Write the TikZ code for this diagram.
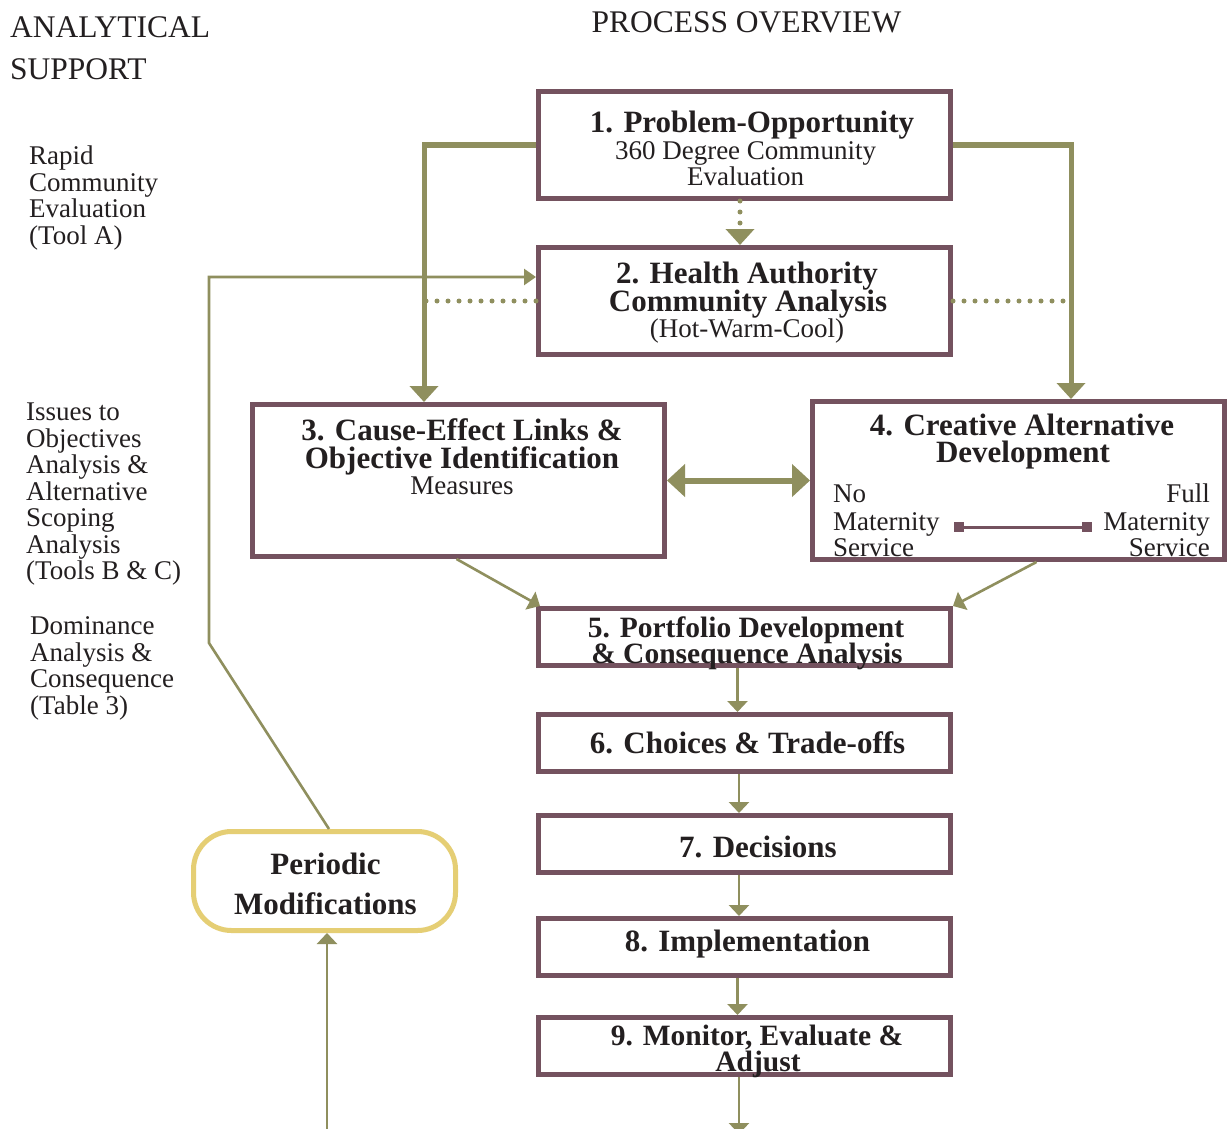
\documentclass[tikz,border=0pt]{standalone}
\usepackage{fontspec}
\setmainfont{Liberation Serif}
\usetikzlibrary{arrows.meta,calc}
\definecolor{boxc}{HTML}{74525F}
\definecolor{oli}{HTML}{8F8F5E}
\definecolor{yel}{HTML}{E5CE74}
\definecolor{txt}{HTML}{231F20}
\tikzset{
  boxn/.style={draw=boxc, line width=5pt, minimum width=412pt, minimum height=57pt, inner sep=0pt, fill=white},
  tb/.style={font=\fontsize{31}{27}\selectfont\bfseries, text=txt, anchor=base, inner sep=0pt},
  tbs/.style={tb, font=\fontsize{29.5}{27}\selectfont\bfseries},
  tr/.style={font=\fontsize{27}{26.5}\selectfont, text=txt, anchor=base, inner sep=0pt},
  trl/.style={tr, anchor=base west},
  trr/.style={tr, anchor=base east},
  th/.style={font=\fontsize{31.5}{31}\selectfont, text=txt, anchor=base, inner sep=0pt},
  thk/.style={draw=oli, line width=5pt, -{Triangle[width=28pt,length=16pt]}},
  dotl/.style={draw=oli, line width=5pt, line cap=round, dash pattern=on 0pt off 11pt},
  thn/.style={draw=oli, line width=2.6pt, -{Triangle[width=20pt,length=11pt]}},
  sq/.style={fill=boxc, minimum size=10pt, inner sep=0pt},
}
\begin{document}
\begin{tikzpicture}[x=1pt,y=-1pt]
\useasboundingbox (0,0) rectangle (1231,1129);
\clip (0,0) rectangle (1231,1129);
\fill[white] (0,0) rectangle (1231,1129);

% headings
\node[th, anchor=base west] (h1) at (10,38) {ANALYTICAL};
\node[th, anchor=base west] (h2) at (10,80) {SUPPORT};
\node[th] (h3) at (746.5,33) {PROCESS OVERVIEW};

% left texts
\node[trl] (r1) at (29,164.5) {Rapid};
\node[trl] (r2) at (29,191) {Community};
\node[trl] (r3) at (29,217.5) {Evaluation};
\node[trl] (r4) at (29,244) {(Tool A)};

\node[trl] (i1) at (26,420.5) {Issues to};
\node[trl] (i2) at (26,447) {Objectives};
\node[trl] (i3) at (26,473.5) {Analysis \&};
\node[trl] (i4) at (26,500) {Alternative};
\node[trl] (i5) at (26,526.5) {Scoping};
\node[trl] (i6) at (26,553) {Analysis};
\node[trl] (i7) at (26,579.5) {(Tools B \& C)};

\node[trl] (d1) at (30,634.5) {Dominance};
\node[trl] (d2) at (30,661) {Analysis \&};
\node[trl] (d3) at (30,687.5) {Consequence};
\node[trl] (d4) at (30,714) {(Table 3)};

% boxes
\node[boxn, minimum height=107pt] (b1) at (744.5,145) {};
\node[boxn, minimum height=107pt] (b2) at (744.5,301) {};
\node[boxn, minimum height=152pt] (b3) at (458.5,480.5) {};
\node[boxn, minimum height=158pt] (b4) at (1018.5,480.5) {};
\node[boxn] (b5) at (744.5,637) {};
\node[boxn] (b6) at (744.5,743) {};
\node[boxn] (b7) at (744.5,844) {};
\node[boxn] (b8) at (744.5,947) {};
\node[boxn] (b9) at (744.5,1046) {};
\node[draw=yel, line width=5pt, rounded corners=38pt, minimum width=262pt, minimum height=99pt, inner sep=0pt, fill=white] (pm) at (324.5,881) {};

% box texts
\node[tb] (t1a) at (752,132) {1. Problem-Opportunity};
\node[tr] (t1b) at (745.5,159.5) {360 Degree Community};
\node[tr] (t1c) at (745.5,185.5) {Evaluation};

\node[tb] (t2a) at (747,283) {2. Health Authority};
\node[tb] (t2b) at (748,311) {Community Analysis};
\node[tr] (t2c) at (747,337.5) {(Hot-Warm-Cool)};

\node[tb] (t3a) at (462,440) {3. Cause-Effect Links \&};
\node[tb] (t3b) at (462,468) {Objective Identification};
\node[tr] (t3c) at (462,494.5) {Measures};

\node[tb] (t4a) at (1022,435) {4. Creative Alternative};
\node[tb] (t4b) at (1023,462) {Development};
\node[trl] (t4c) at (833,502.5) {No};
\node[trl] (t4d) at (833,530.5) {Maternity};
\node[trl] (t4e) at (833,556.5) {Service};
\node[trr] (t4f) at (1210,502.5) {Full};
\node[trr] (t4g) at (1210,530.5) {Maternity};
\node[trr] (t4h) at (1210,556.5) {Service};
\node[sq] (sqL) at (959,527) {};
\node[sq] (sqR) at (1087,527) {};
\draw[boxc, line width=3pt] (sqL) -- (sqR);

\node[tbs] (t5a) at (746,637.5) {5. Portfolio Development};
\node[tbs] (t5b) at (747,663.5) {\& Consequence Analysis};
\node[tb] (t6) at (747.5,753) {6. Choices \& Trade-offs};
\node[tb] (t7) at (758,857) {7. Decisions};
\node[tb] (t8) at (747.5,951) {8. Implementation};
\node[tbs] (t9a) at (757,1045.5) {9. Monitor, Evaluate \&};
\node[tbs] (t9b) at (758,1071.5) {Adjust};

\node[tb] (pma) at (325.5,874) {Periodic};
\node[tb] (pmb) at (325.5,914) {Modifications};

% connectors
\coordinate (lcol) at (424,299);
\coordinate (rcol) at (1071,299);
\draw[dotl] (b2.west) -- (b2.west -| lcol);
\draw[dotl] (b2.east) -- (b2.east -| rcol);
\draw[thk] (b1.west) -| ([xshift=-34.5pt]b3.north);
\draw[thk] (b1.east) -| ([xshift=52.5pt]b4.north);
\draw[dotl, -{Triangle[width=28pt,length=16pt]}] ([xshift=-4.5pt]b1.south) -- ([xshift=-4.5pt]b2.north);
\draw[draw=oli, line width=6pt, {Triangle[width=32pt,length=18pt]}-{Triangle[width=32pt,length=18pt]}] (b3.east) -- (b4.west);

\draw[thn] ([xshift=-2pt]b3.south) -- ([xshift=4pt]b5.north west);
\draw[thn] ([xshift=18pt]b4.south) -- (b5.north east);
\draw[thn] ([xshift=-7pt]b5.south) -- ([xshift=-7pt]b6.north);
\draw[thn] ([xshift=-5.5pt]b6.south) -- ([xshift=-5.5pt]b7.north);
\draw[thn] ([xshift=-5.5pt]b7.south) -- ([xshift=-5.5pt]b8.north);
\draw[thn] ([xshift=-7pt]b8.south) -- ([xshift=-7pt]b9.north);
\coordinate (end9) at (739,1134);
\draw[thn] ([xshift=-5.5pt]b9.south) -- (end9);

\coordinate (fa) at (209,643);
\coordinate (fb) at (209,277);
\draw[thn, -{Triangle[width=16pt,length=12pt]}] ([xshift=4.5pt]pm.north) -- (fa) -- (fb) -- (fb -| b2.west);
\coordinate (pmbot) at (327,1140);
\draw[thn] (pmbot) -- ([xshift=2.5pt]pm.south);
\end{tikzpicture}
\end{document}
